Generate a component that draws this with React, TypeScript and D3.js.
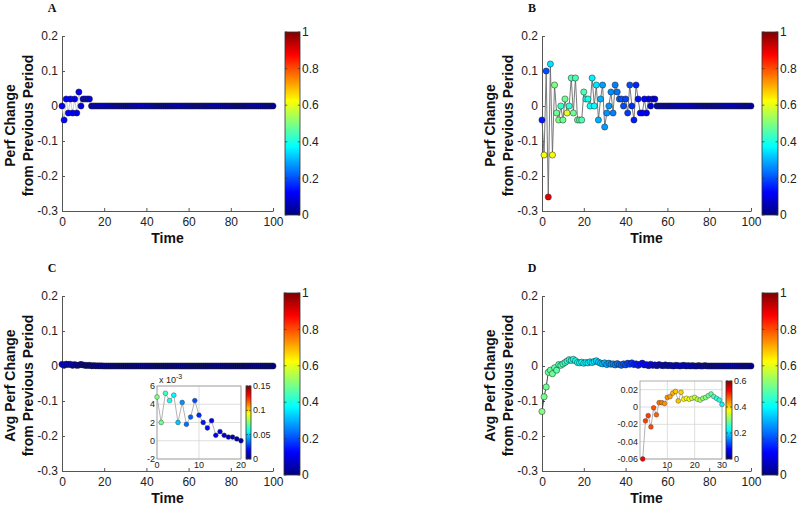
import React, { useEffect, useRef } from 'react';
import * as d3 from 'd3';

// time steps shown on every main panel
const timeSteps = d3.range(0, 101);
const yTicks = [0.2, 0.1, 0, -0.1, -0.2, -0.3];
const xTicks = [0, 20, 40, 60, 80, 100];
const cbarTicks = [0, 0.2, 0.4, 0.6, 0.8, 1];

// A: perf change, colour value per step
const perfA = [
  0, -0.04, 0.02, -0.02, 0.02, -0.02, 0.02, -0.02, 0.04, 0,
  0.02, 0.02, 0.02, 0.02, 0, 0, 0, 0, 0, 0,
  0, 0, 0, 0, 0, 0, 0, 0, 0, 0,
  0, 0, 0, 0, 0, 0, 0, 0, 0, 0,
  0, 0, 0, 0, 0, 0, 0, 0, 0, 0,
  0, 0, 0, 0, 0, 0, 0, 0, 0, 0,
  0, 0, 0, 0, 0, 0, 0, 0, 0, 0,
  0, 0, 0, 0, 0, 0, 0, 0, 0, 0,
  0, 0, 0, 0, 0, 0, 0, 0, 0, 0,
  0, 0, 0, 0, 0, 0, 0, 0, 0, 0,
  0,
];
const colorA = [
  0.12, 0.13, 0.12, 0.12, 0.11, 0.12, 0.11, 0.11, 0.12, 0.10,
  0.10, 0.10, 0.09, 0.09, 0.07, 0.07, 0.07, 0.06, 0.06, 0.06,
  0.06, 0.06, 0.06, 0.05, 0.05, 0.05, 0.05, 0.05, 0.05, 0.05,
  0.05, 0.05, 0.05, 0.05, 0.05, 0.05, 0.05, 0.05, 0.05, 0.05,
  0.05, 0.05, 0.05, 0.05, 0.05, 0.04, 0.04, 0.04, 0.04, 0.04,
  0.04, 0.04, 0.04, 0.04, 0.04, 0.04, 0.04, 0.04, 0.04, 0.04,
  0.04, 0.04, 0.04, 0.04, 0.04, 0.04, 0.04, 0.04, 0.04, 0.04,
  0.04, 0.04, 0.04, 0.04, 0.04, 0.03, 0.03, 0.03, 0.03, 0.03,
  0.03, 0.03, 0.03, 0.03, 0.03, 0.03, 0.03, 0.03, 0.03, 0.03,
  0.03, 0.03, 0.03, 0.03, 0.03, 0.03, 0.03, 0.03, 0.03, 0.03,
  0.03,
];

// B
const perfB = [
  -0.04, -0.14, 0.10, -0.26, 0.12, -0.14, 0.06, -0.02, -0.04, 0,
  -0.04, 0.02, -0.02, 0, 0.08, -0.02, 0.08, -0.04, -0.04, -0.04,
  0.04, 0.02, 0.02, 0, 0.08, 0, 0.06, -0.04, 0.02, 0.06,
  -0.06, -0.02, 0, 0.04, -0.02, 0.06, 0.04, 0.02, 0.02, 0,
  0.02, -0.02, 0.06, 0, -0.04, 0.06, 0.02, -0.02, -0.02, 0.02,
  -0.02, 0.02, 0, 0.02, 0.02, 0, 0, 0, 0, 0,
  0, 0, 0, 0, 0, 0, 0, 0, 0, 0,
  0, 0, 0, 0, 0, 0, 0, 0, 0, 0,
  0, 0, 0, 0, 0, 0, 0, 0, 0, 0,
  0, 0, 0, 0, 0, 0, 0, 0, 0, 0,
  0,
];
const colorB = [
  0.15, 0.62, 0.20, 0.90, 0.35, 0.62, 0.50, 0.48, 0.50, 0.43,
  0.48, 0.48, 0.60, 0.42, 0.45, 0.48, 0.45, 0.47, 0.47, 0.45,
  0.45, 0.40, 0.40, 0.38, 0.36, 0.38, 0.35, 0.30, 0.30, 0.28,
  0.28, 0.27, 0.27, 0.26, 0.25, 0.25, 0.24, 0.22, 0.20, 0.20,
  0.19, 0.18, 0.20, 0.17, 0.15, 0.16, 0.14, 0.13, 0.12, 0.12,
  0.11, 0.10, 0.09, 0.09, 0.09, 0.07, 0.07, 0.07, 0.07, 0.07,
  0.06, 0.06, 0.06, 0.06, 0.06, 0.06, 0.06, 0.06, 0.06, 0.06,
  0.06, 0.06, 0.06, 0.06, 0.06, 0.05, 0.05, 0.05, 0.05, 0.05,
  0.05, 0.05, 0.05, 0.05, 0.05, 0.05, 0.05, 0.05, 0.05, 0.05,
  0.05, 0.05, 0.05, 0.05, 0.05, 0.04, 0.04, 0.04, 0.04, 0.04,
  0.04,
];

// C: average perf change (inset shows steps 0-20 in units of 1e-3)
const avgC = [
  0.0048, 0.0020, 0.0052, 0.0044, 0.0050, 0.0020, 0.0042, 0.0018, 0.0026, 0.0044,
  0.0028, 0.0020, 0.0014, 0.0022, 0.0006, 0.0010, 0.0006, 0.0004, 0.0004, 0.0002,
  0, 0, 0, 0, 0, 0, 0, 0, 0, 0,
  0, 0, 0, 0, 0, 0, 0, 0, 0, 0,
  0, 0, 0, 0, 0, 0, 0, 0, 0, 0,
  0, 0, 0, 0, 0, 0, 0, 0, 0, 0,
  0, 0, 0, 0, 0, 0, 0, 0, 0, 0,
  0, 0, 0, 0, 0, 0, 0, 0, 0, 0,
  0, 0, 0, 0, 0, 0, 0, 0, 0, 0,
  0, 0, 0, 0, 0, 0, 0, 0, 0, 0,
  0,
];
const colorC = [
  0.075, 0.072, 0.065, 0.058, 0.056, 0.048, 0.040, 0.035, 0.033, 0.030,
  0.025, 0.022, 0.020, 0.018, 0.015, 0.013, 0.011, 0.009, 0.008, 0.006,
  0.005, 0.005, 0.004, 0.004, 0.004, 0.004, 0.003, 0.003, 0.003, 0.003,
  0.003, 0.003, 0.003, 0.002, 0.002, 0.002, 0.002, 0.002, 0.002, 0.002,
  0.002, 0.002, 0.002, 0.002, 0.002, 0.002, 0.002, 0.002, 0.002, 0.002,
  0.001, 0.001, 0.001, 0.001, 0.001, 0.001, 0.001, 0.001, 0.001, 0.001,
  0.001, 0.001, 0.001, 0.001, 0.001, 0.001, 0.001, 0.001, 0.001, 0.001,
  0.001, 0.001, 0.001, 0.001, 0.001, 0.001, 0.001, 0.001, 0.001, 0.001,
  0.001, 0.001, 0.001, 0.001, 0.001, 0.001, 0.001, 0.001, 0.001, 0.001,
  0.001, 0.001, 0.001, 0.001, 0.001, 0.001, 0.001, 0.001, 0.001, 0.001,
  0.001,
];

// D
const avgD = [
  -0.130, -0.088, -0.060, -0.018, -0.012, -0.022, -0.005, -0.012, 0.004, 0.002,
  0.006, 0.010, 0.014, 0.018, 0.016, 0.019, 0.015, 0.010, 0.009, 0.011,
  0.008, 0.010, 0.009, 0.012, 0.010, 0.013, 0.015, 0.011, 0.008, 0.006,
  0.009, 0.004, 0.008, 0.005, 0.006, 0.003, 0.007, 0.004, 0.002, 0.006,
  0.003, 0.008, 0.005, 0.009, 0.004, 0.006, 0.002, 0.005, 0.008, 0.003,
  0.004, 0.001, 0.005, 0.002, 0.003, 0.001, 0.004, 0.002, 0.001, 0.003,
  0.001, 0.002, 0.001, 0.000, 0.002, 0.001, 0.000, 0.001, 0.002, 0.000,
  0.001, 0.000, 0.001, 0.000, 0.000, 0.001, 0.000, 0.000, 0.001, 0.000,
  0, 0, 0, 0, 0, 0, 0, 0, 0, 0,
  0, 0, 0, 0, 0, 0, 0, 0, 0, 0,
  0,
];
const colorD = [
  0.50, 0.49, 0.48, 0.48, 0.47, 0.48, 0.47, 0.46, 0.45, 0.45,
  0.44, 0.43, 0.42, 0.41, 0.40, 0.40, 0.39, 0.39, 0.38, 0.38,
  0.37, 0.37, 0.36, 0.36, 0.35, 0.35, 0.34, 0.33, 0.32, 0.31,
  0.30, 0.29, 0.28, 0.27, 0.26, 0.25, 0.24, 0.23, 0.22, 0.21,
  0.20, 0.19, 0.18, 0.17, 0.16, 0.15, 0.15, 0.14, 0.13, 0.13,
  0.12, 0.12, 0.11, 0.11, 0.10, 0.10, 0.09, 0.09, 0.08, 0.08,
  0.08, 0.07, 0.07, 0.07, 0.06, 0.06, 0.06, 0.06, 0.05, 0.05,
  0.05, 0.05, 0.05, 0.04, 0.04, 0.04, 0.04, 0.04, 0.04, 0.04,
  0.03, 0.03, 0.03, 0.03, 0.03, 0.03, 0.03, 0.03, 0.03, 0.03,
  0.03, 0.03, 0.03, 0.03, 0.03, 0.02, 0.02, 0.02, 0.02, 0.02,
  0.02,
];

// D inset: steps 1-30
const insetDTime = d3.range(1, 31);
const insetDValues = [
  -0.060, -0.016, -0.010, -0.023, -0.001, -0.009, 0.005, 0.005, 0.004, 0.011,
  0.012, 0.016, 0.018, 0.007, 0.017, 0.009, 0.010, 0.009, 0.010, 0.011,
  0.009, 0.008, 0.010, 0.011, 0.013, 0.015, 0.012, 0.010, 0.008, 0.003,
];
const insetDColors = [
  0.53, 0.49, 0.49, 0.48, 0.48, 0.47, 0.46, 0.45, 0.44, 0.44,
  0.43, 0.42, 0.41, 0.41, 0.40, 0.38, 0.37, 0.36, 0.35, 0.34,
  0.33, 0.32, 0.31, 0.30, 0.29, 0.28, 0.27, 0.25, 0.24, 0.22,
];

const FONT = "'Liberation Sans', Arial, sans-serif";
const SERIF = "'Liberation Serif', 'Times New Roman', serif";

const jet = (v: number) => {
  const c = (x: number) => Math.max(0, Math.min(1, x));
  const r = c(Math.min(4 * v - 1.5, -4 * v + 4.5));
  const g = c(Math.min(4 * v - 0.5, -4 * v + 3.5));
  const b = c(Math.min(4 * v + 0.5, -4 * v + 2.5));
  return d3.rgb(r * 255, g * 255, b * 255).formatHex();
};

const panels = [
  { id: 'A', left: 62, right: 273, top: 36, bottom: 211, label: 'Perf Change', values: perfA, colors: colorA, line: '#c8c8c8', cbar: [285, 300, 32, 215] },
  { id: 'B', left: 542, right: 751, top: 36, bottom: 211, label: 'Perf Change', values: perfB, colors: colorB, line: '#6a6a6a', cbar: [762, 778, 32, 215] },
  { id: 'C', left: 62, right: 273, top: 296, bottom: 471, label: 'Avg Perf Change', values: avgC, colors: colorC, line: '#6a6a6a', cbar: [284, 300, 293, 475] },
  { id: 'D', left: 542, right: 751, top: 296, bottom: 471, label: 'Avg Perf Change', values: avgD, colors: colorD, line: '#333', cbar: [762, 778, 293, 475] },
];

const styleAxis = (sel: any, size: number) => {
  sel.attr('font-family', FONT).attr('font-size', size);
  sel.select('.domain').attr('stroke', '#555');
  sel.selectAll('.tick line').attr('stroke', '#555');
  sel.selectAll('.tick text').attr('fill', '#222');
};

const drawColorbar = (svg: any, box: number[], domain: number[], ticks: number[], fontSize: number, id: string) => {
  const [x0, x1, y0, y1] = box;
  const grad = svg.append('defs').append('linearGradient')
    .attr('id', id).attr('x1', 0).attr('y1', 1).attr('x2', 0).attr('y2', 0);
  d3.range(0, 65).forEach(i => {
    grad.append('stop').attr('offset', `${(i / 64) * 100}%`).attr('stop-color', jet(i / 64));
  });
  svg.append('rect')
    .attr('x', x0).attr('y', y0).attr('width', x1 - x0).attr('height', y1 - y0)
    .attr('fill', `url(#${id})`).attr('stroke', '#333').attr('stroke-width', 0.8);
  const s = d3.scaleLinear().domain(domain).range([y1, y0]);
  const tk = Math.max(2, (x1 - x0) * 0.15);
  ticks.forEach(t => {
    const y = s(t);
    svg.append('line').attr('x1', x1 - tk).attr('x2', x1).attr('y1', y).attr('y2', y).attr('stroke', '#333').attr('stroke-width', 0.7);
    svg.append('line').attr('x1', x0).attr('x2', x0 + tk).attr('y1', y).attr('y2', y).attr('stroke', '#333').attr('stroke-width', 0.7);
    svg.append('text')
      .attr('x', x1 + 2).attr('y', y).attr('dy', '0.35em')
      .attr('font-family', FONT).attr('font-size', fontSize).attr('fill', '#222')
      .text(String(t));
  });
};

const drawMain = (svg: any, p: any) => {
  const g = svg.append('g');
  const x = d3.scaleLinear().domain([0, 100]).range([p.left, p.right]);
  const y = d3.scaleLinear().domain([-0.3, 0.2]).range([p.bottom, p.top]);

  const yAxis = g.append('g').attr('transform', `translate(${p.left},0)`)
    .call(d3.axisLeft(y).tickValues(yTicks).tickSize(-3).tickSizeOuter(0).tickPadding(4).tickFormat((d: any) => String(d)));
  styleAxis(yAxis, 12);
  const xAxis = g.append('g').attr('transform', `translate(0,${p.bottom})`)
    .call(d3.axisBottom(x).tickValues(xTicks).tickSize(-3).tickSizeOuter(0).tickPadding(6).tickFormat((d: any) => String(d)));
  styleAxis(xAxis, 12);

  const line = d3.line<number>().x((_, i) => x(timeSteps[i])).y(d => y(d));
  g.append('path').datum(p.values).attr('fill', 'none').attr('stroke', p.line).attr('stroke-width', 0.9).attr('d', line);

  g.selectAll('.pt').data(p.values).enter().append('circle')
    .attr('cx', (_: any, i: number) => x(timeSteps[i]))
    .attr('cy', (d: number) => y(d))
    .attr('r', 3.1)
    .attr('fill', (_: any, i: number) => jet(p.colors[i]))
    .attr('stroke', '#222').attr('stroke-width', 0.5);

  const cy = (p.top + p.bottom) / 2 + 2;
  [[p.label, p.left - 47], ['from Previous Period', p.left - 29]].forEach(([t, bx]: any) => {
    g.append('text')
      .attr('transform', `translate(${bx},${cy}) rotate(-90)`)
      .attr('text-anchor', 'middle')
      .attr('font-family', FONT).attr('font-weight', 'bold').attr('font-size', 14).attr('fill', '#111')
      .text(t);
  });
  g.append('text')
    .attr('x', (p.left + p.right) / 2).attr('y', p.bottom + 32)
    .attr('text-anchor', 'middle')
    .attr('font-family', FONT).attr('font-weight', 'bold').attr('font-size', 14).attr('fill', '#111')
    .text('Time');
  g.append('text')
    .attr('x', p.left - 10).attr('y', p.top - 24)
    .attr('text-anchor', 'middle')
    .attr('font-family', SERIF).attr('font-weight', 'bold').attr('font-size', 12).attr('fill', '#111')
    .text(p.id);

  drawColorbar(g, p.cbar, [0, 1], cbarTicks, 12, `cbar${p.id}`);
};

const drawInset = (svg: any, s: any) => {
  const g = svg.append('g');
  const x = d3.scaleLinear().domain(s.xDomain).range([s.left, s.right]);
  const y = d3.scaleLinear().domain(s.yDomain).range([s.bottom, s.top]);
  g.append('rect').attr('x', s.left).attr('y', s.top).attr('width', s.right - s.left).attr('height', s.bottom - s.top).attr('fill', '#fff');
  s.xTicks.forEach((t: number) => {
    g.append('line').attr('x1', x(t)).attr('x2', x(t)).attr('y1', s.top).attr('y2', s.bottom).attr('stroke', '#d6d6d6').attr('stroke-width', 0.8);
  });
  s.yTicks.forEach((t: number) => {
    g.append('line').attr('x1', s.left).attr('x2', s.right).attr('y1', y(t)).attr('y2', y(t)).attr('stroke', '#d6d6d6').attr('stroke-width', 0.8);
    g.append('text').attr('x', s.left - 2).attr('y', y(t)).attr('dy', '0.35em').attr('text-anchor', 'end')
      .attr('font-family', FONT).attr('font-size', 9).attr('fill', '#222').text(s.yFormat(t));
  });
  s.xLabels.forEach((t: number) => {
    g.append('text').attr('x', x(t)).attr('y', s.bottom + 9).attr('text-anchor', 'middle')
      .attr('font-family', FONT).attr('font-size', 9).attr('fill', '#222').text(String(t));
  });
  g.append('rect').attr('x', s.left).attr('y', s.top).attr('width', s.right - s.left).attr('height', s.bottom - s.top)
    .attr('fill', 'none').attr('stroke', '#9a9a9a').attr('stroke-width', 0.8);

  const line = d3.line<number>().x((_, i) => x(s.time[i])).y(d => y(d));
  g.append('path').datum(s.values).attr('fill', 'none').attr('stroke', '#a0a0a0').attr('stroke-width', 0.8).attr('d', line);
  g.selectAll('.ipt').data(s.values).enter().append('circle')
    .attr('cx', (_: any, i: number) => x(s.time[i]))
    .attr('cy', (d: number) => y(d))
    .attr('r', 2.4)
    .attr('fill', (_: any, i: number) => jet(s.colors[i] / s.cmax))
    .attr('stroke', '#333').attr('stroke-width', 0.4);

  if (s.exponent) {
    const t = g.append('text').attr('x', s.left + 2).attr('y', s.top - 3)
      .attr('font-family', FONT).attr('font-size', 9).attr('fill', '#222');
    t.append('tspan').text('x 10');
    t.append('tspan').attr('dy', -4).attr('font-size', 7).text(s.exponent);
  }
  drawColorbar(g, s.cbar, [0, s.cmax], s.cbarTicks, 9, s.id);
};

const insetC = {
  id: 'icC', left: 157, right: 241, top: 386, bottom: 459,
  xDomain: [0, 20], yDomain: [-0.002, 0.006],
  xTicks: [0, 10, 20], xLabels: [0, 10, 20], yTicks: [-0.002, 0, 0.002, 0.004, 0.006],
  yFormat: (t: number) => String(Math.round(t * 1000)),
  time: timeSteps.slice(0, 21), values: avgC.slice(0, 21), colors: colorC.slice(0, 21),
  cmax: 0.15, cbar: [246, 251, 386, 459], cbarTicks: [0, 0.05, 0.1, 0.15], exponent: '-3',
};

const insetD = {
  id: 'icD', left: 640, right: 722, top: 381, bottom: 459,
  xDomain: [0, 30], yDomain: [-0.06, 0.03],
  xTicks: [10, 20], xLabels: [10, 20, 30], yTicks: [-0.06, -0.04, -0.02, 0, 0.02],
  yFormat: (t: number) => String(t),
  time: insetDTime, values: insetDValues, colors: insetDColors,
  cmax: 0.6, cbar: [726, 732, 381, 459], cbarTicks: [0, 0.2, 0.4, 0.6], exponent: null,
};

export default function App() {
  const svgRef = useRef<SVGSVGElement>(null);

  useEffect(() => {
    if (!svgRef.current) return;
    const svg = d3.select(svgRef.current);
    svg.selectAll('*').remove();
    panels.forEach(p => drawMain(svg, p));
    drawInset(svg, insetC);
    drawInset(svg, insetD);
  }, []);

  return (
    <div style={{ position: 'absolute', left: 0, top: 0 }}>
      <svg ref={svgRef} width={800} height={506} style={{ display: 'block', background: '#fff' }} />
    </div>
  );
}
